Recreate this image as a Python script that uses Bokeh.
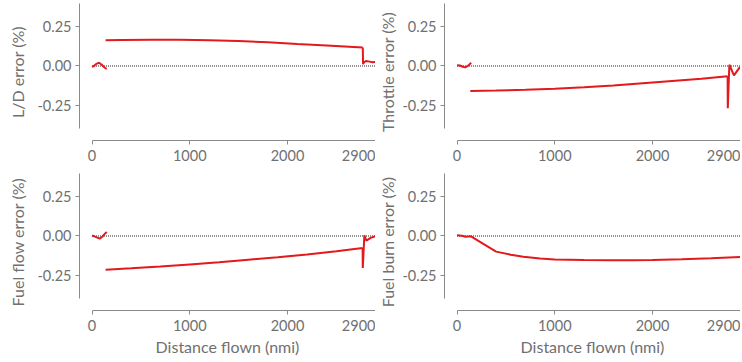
from bokeh.plotting import figure
from bokeh.layouts import gridplot
from bokeh.models import FixedTicker, NumeralTickFormatter, Range1d
from bokeh.embed import file_html
from bokeh.resources import INLINE

# ---------------- data ----------------
x_ticks = [0, 1000, 2000, 2900]
y_ticks = [-0.25, 0.0, 0.25]
zero_x = [0, 2900]
zero_y = [0.0, 0.0]

# L/D error
ld_climb_x = [0, 20, 40, 72, 100, 125, 150]
ld_climb_y = [-0.006, 0.0, 0.012, 0.021, 0.008, -0.008, -0.019]
ld_cruise_x = [139, 300, 600, 900, 1200, 1500, 1800, 2100, 2400, 2770]
ld_cruise_y = [0.165, 0.167, 0.168, 0.168, 0.165, 0.160, 0.152, 0.141, 0.131, 0.118]
ld_desc_x = [2770, 2773, 2785, 2802, 2840, 2870, 2900]
ld_desc_y = [0.118, 0.012, 0.025, 0.032, 0.028, 0.024, 0.026]

# Throttle error
th_climb_x = [0, 30, 60, 85, 110, 130, 145]
th_climb_y = [0.005, 0.003, -0.005, -0.009, 0.0, 0.012, 0.021]
th_cruise_x = [136, 400, 700, 1000, 1300, 1600, 1900, 2200, 2500, 2768]
th_cruise_y = [-0.160, -0.157, -0.152, -0.145, -0.136, -0.125, -0.110, -0.096, -0.082, -0.066]
th_desc_x = [2768, 2770, 2786, 2833, 2895]
th_desc_y = [-0.066, -0.270, 0.008, -0.060, -0.006]

# Fuel flow error
ff_climb_x = [0, 30, 79, 105, 128, 150]
ff_climb_y = [0.004, -0.004, -0.017, -0.005, 0.012, 0.026]
ff_cruise_x = [139, 400, 700, 1000, 1300, 1600, 1900, 2200, 2500, 2768]
ff_cruise_y = [-0.216, -0.207, -0.196, -0.182, -0.168, -0.152, -0.136, -0.118, -0.097, -0.077]
ff_desc_x = [2768, 2770, 2786, 2807, 2850, 2900]
ff_desc_y = [-0.077, -0.205, 0.004, -0.030, -0.012, -0.001]

# Fuel burn error
fb_x = [0, 50, 89, 143, 400, 550, 679, 850, 1000, 1300, 1571, 1800, 2000, 2300, 2600, 2900]
fb_y = [0.004, 0.002, -0.005, -0.002, -0.100, -0.120, -0.133, -0.144, -0.150, -0.154, -0.156, -0.156, -0.154, -0.149, -0.143, -0.135]

RED = "#e3191c"
GRAY_TXT = "#707070"
GRAY_AX = "#8a8a8a"
FONT = "Lato"


def make_panel(ylabel, segments, bottom, left_col):
    h = 192 if bottom else 170
    w = 375 if left_col else 365
    bl = 79 if left_col else 69
    p = figure(width=w, height=h, output_backend="svg", toolbar_location=None,
               x_range=Range1d(-128, 2900), y_range=Range1d(-0.477, 0.4),
               min_border_left=bl, min_border_right=0, min_border_top=3,
               min_border_bottom=(52 if bottom else 30))
    p.outline_line_color = None
    p.xgrid.grid_line_color = None
    p.ygrid.grid_line_color = None
    p.background_fill_color = "white"
    p.border_fill_color = "white"

    p.line(zero_x, zero_y, line_color="#222222", line_width=1.2, line_dash="1 1")
    for xs, ys in segments:
        p.line(xs, ys, line_color=RED, line_width=2)

    xa = p.xaxis[0]
    xa.ticker = FixedTicker(ticks=x_ticks)
    xa.bounds = (0, 2900)
    if bottom:
        xa.axis_label = "Distance flown (nmi)"
    ya = p.yaxis[0]
    ya.ticker = FixedTicker(ticks=y_ticks)
    ya.bounds = (-0.4, 0.4)
    ya.formatter = NumeralTickFormatter(format="0.00")
    ya.axis_label = ylabel
    for ax in (xa, ya):
        ax.axis_line_color = GRAY_AX
        ax.axis_line_width = 1
        ax.major_tick_line_color = GRAY_AX
        ax.major_tick_out = 4
        ax.major_tick_in = 0
        ax.minor_tick_line_color = None
        ax.major_label_text_font = FONT
        ax.major_label_text_font_size = "14.5px"
        ax.major_label_text_color = GRAY_TXT
        ax.axis_label_text_font = FONT
        ax.axis_label_text_font_size = "16px"
        ax.axis_label_text_font_style = "normal"
        ax.axis_label_text_color = GRAY_TXT
    xa.major_label_standoff = 5
    xa.axis_label_standoff = 3
    ya.major_label_standoff = 4
    ya.axis_label_standoff = 7 if left_col else 2
    return p


p1 = make_panel("L/D error (%)", [(ld_climb_x, ld_climb_y), (ld_cruise_x, ld_cruise_y), (ld_desc_x, ld_desc_y)], False, True)
p2 = make_panel("Throttle error (%)", [(th_climb_x, th_climb_y), (th_cruise_x, th_cruise_y), (th_desc_x, th_desc_y)], False, False)
p3 = make_panel("Fuel flow error (%)", [(ff_climb_x, ff_climb_y), (ff_cruise_x, ff_cruise_y), (ff_desc_x, ff_desc_y)], True, True)
p4 = make_panel("Fuel burn error (%)", [(fb_x, fb_y)], True, False)

grid = gridplot([[p1, p2], [p3, p4]], toolbar_location=None)

open("out.html", "w").write(file_html(grid, INLINE))
